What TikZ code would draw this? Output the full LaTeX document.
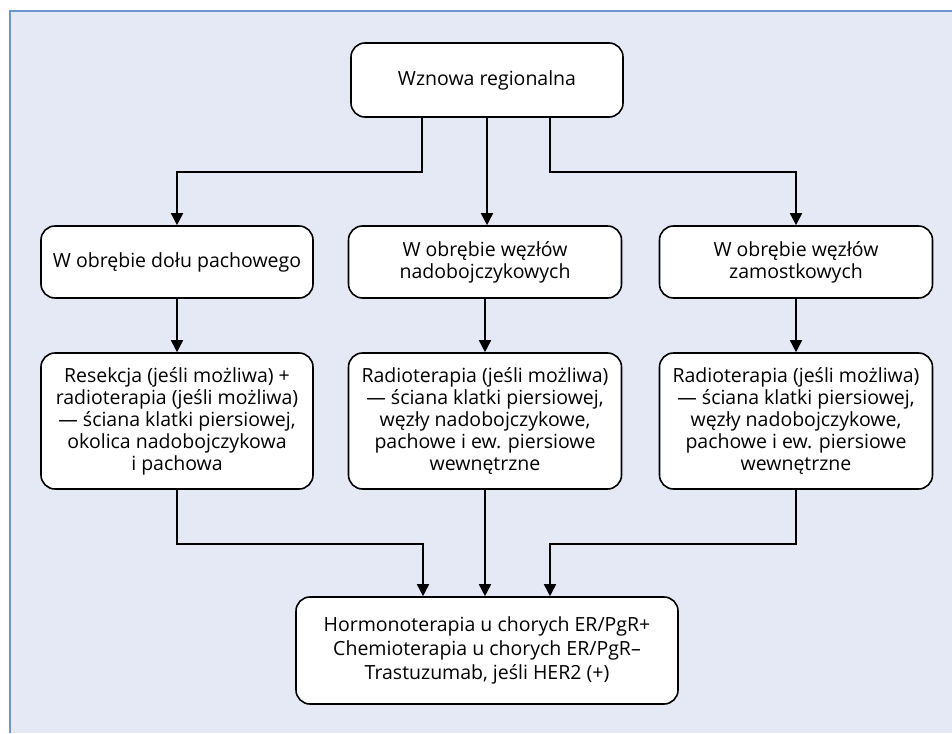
\documentclass[tikz,border=0pt]{standalone}
\usepackage{fontspec}
\setmainfont{Open Sans}
\usetikzlibrary{arrows.meta}
\definecolor{bg}{HTML}{E5E9F5}
\definecolor{framec}{HTML}{6E95D0}
\begin{document}
\begin{tikzpicture}[x=1pt,y=-1pt,
  box/.style={draw, line width=1.6pt, rounded corners=14pt, fill=white, align=center,
    font=\fontsize{19.5}{22}\selectfont, inner sep=0pt},
  arr/.style={line width=1.6pt, -{Triangle[length=12pt,width=12pt]}}]
\useasboundingbox (0,0) rectangle (952,733);
\fill[bg] (10,11) rectangle (952,733);
\draw[framec, line width=2pt] (10,733) -- (10,11) -- (952,11);

\node[box, minimum width=272pt, minimum height=74pt] (top) at (487,80) {Wznowa regionalna};

\node[box, minimum width=272pt, minimum height=72pt] (m1) at (177,262) {W obrębie dołu pachowego};
\node[box, minimum width=273pt, minimum height=72pt] (m2) at (485,262) {W obrębie węzłów\\nadobojczykowych};
\node[box, minimum width=273pt, minimum height=72pt] (m3) at (796,262) {W obrębie węzłów\\zamostkowych};

\node[box, minimum width=272pt, minimum height=136pt] (r1) at (177,421) {Resekcja (jeśli możliwa) +\\radioterapia (jeśli możliwa)\\— ściana klatki piersiowej,\\okolica nadobojczykowa\\i pachowa};
\node[box, minimum width=273pt, minimum height=136pt] (r2) at (485,421) {Radioterapia (jeśli możliwa)\\— ściana klatki piersiowej,\\węzły nadobojczykowe,\\pachowe i ew. piersiowe\\wewnętrzne};
\node[box, minimum width=273pt, minimum height=136pt] (r3) at (796,421) {Radioterapia (jeśli możliwa)\\— ściana klatki piersiowej,\\węzły nadobojczykowe,\\pachowe i ew. piersiowe\\wewnętrzne};

\node[box, minimum width=382pt, minimum height=107pt, font=\fontsize{19.5}{24}\selectfont] (bot) at (487,650.5) {Hormonoterapia u chorych ER/PgR+\\Chemioterapia u chorych ER/PgR–\\Trastuzumab, jeśli HER2 (+)};

\draw[arr] ([xshift=-65pt]top.south) -- ++(0pt,-54pt) -| (m1.north);
\draw[arr] (top.south) -- (top.south |- m2.north);
\draw[arr] ([xshift=63pt]top.south) -- ++(0pt,-54pt) -| (m3.north);

\draw[arr] (m1.south) -- (r1.north);
\draw[arr] (m2.south) -- (r2.north);
\draw[arr] (m3.south) -- (r3.north);

\draw[arr] (r1.south) -- ++(0pt,-54pt) -| ([xshift=-64pt]bot.north);
\draw[arr] (r2.south) -- (r2.south |- bot.north);
\draw[arr] (r3.south) -- ++(0pt,-54pt) -| ([xshift=63pt]bot.north);
\end{tikzpicture}
\end{document}
